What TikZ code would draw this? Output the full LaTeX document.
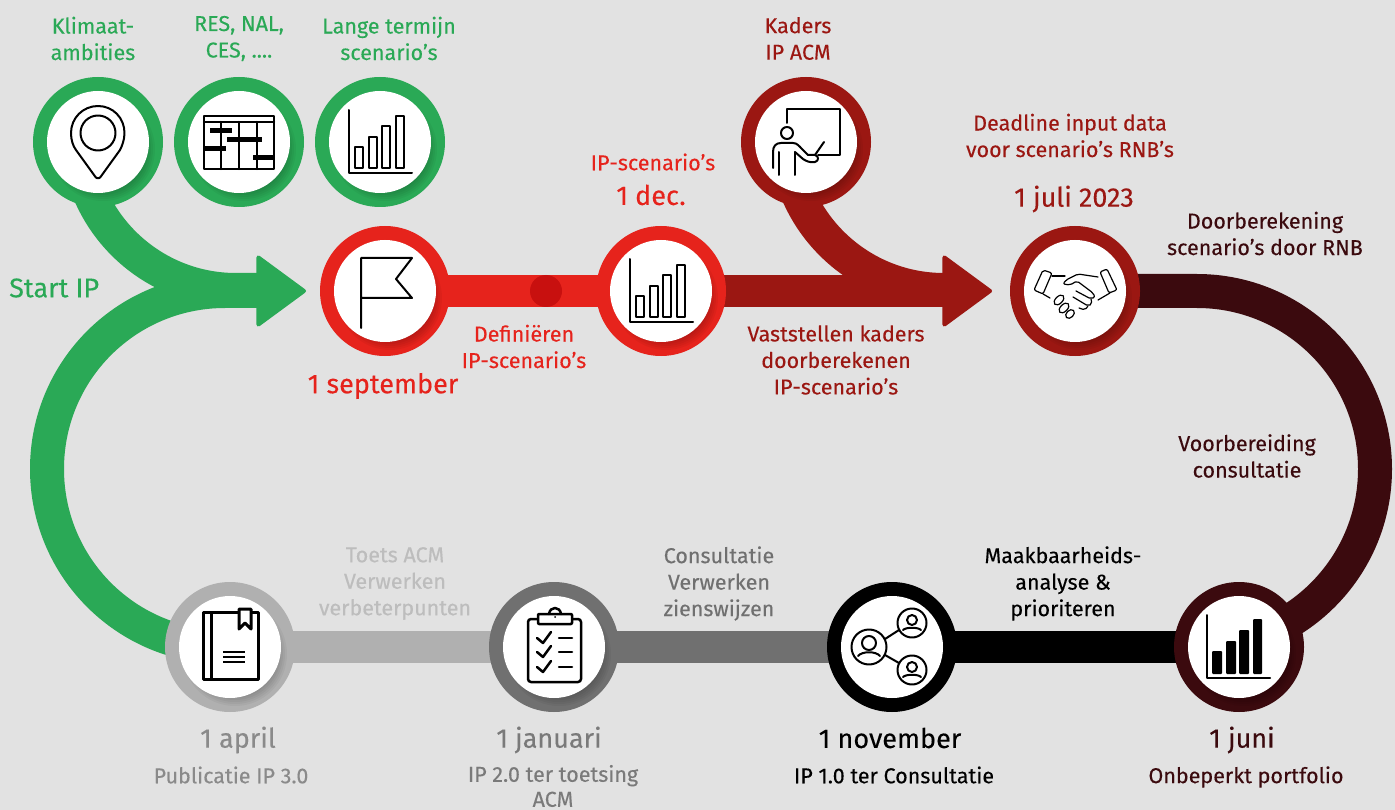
\documentclass[tikz,border=0pt]{standalone}
\usepackage{fontspec}
\setmainfont{Fira Sans}[FakeBold=0.2]
\usetikzlibrary{backgrounds,arrows.meta}
\definecolor{bgc}{HTML}{E2E2E2}
\definecolor{cgreen}{HTML}{2AA956}
\definecolor{cred}{HTML}{E6231C}
\definecolor{cdot}{HTML}{C8100F}
\definecolor{cdark}{HTML}{9B1712}
\definecolor{cmaroon}{HTML}{3B0A0E}
\definecolor{clight}{HTML}{B0B0B0}
\definecolor{cmid}{HTML}{707070}
\definecolor{tlight}{HTML}{BDBDBD}
\definecolor{tmid}{HTML}{8A8A8A}
\definecolor{tdark}{HTML}{7A7A7A}
\tikzset{
 x=1pt,y=-1pt,
 ringnode/.style={circle,minimum size=130pt,inner sep=0pt,path picture={
   \foreach \r in {44,46,...,52}{\fill[black,opacity=.04] ([shift={(5,7)}]path picture bounding box.center) circle[radius=\r pt];}}},
 holenode/.style={circle,minimum size=102pt,inner sep=0pt,fill=white},
 bandline/.style={line width=32pt,line cap=butt,line join=round},
 curveband/.style={line width=34pt,line cap=butt,line join=round},
 headtip/.style={-{Triangle[length=51pt,width=74pt,line width=4pt,round]}},
 icon/.style={draw=black,line width=2pt,line join=round,line cap=round},
 thinicon/.style={draw=black,line width=1.2pt,line join=round,line cap=round},
 label/.style={align=center,inner sep=0pt,font=\fontsize{21.5}{26.5}\selectfont},
 date/.style={align=center,inner sep=0pt,font=\fontsize{27}{32}\selectfont},
}
\newcommand\ringat[4]{\node[ringnode,fill=#4] (#1) at (#2,#3) {};\node[holenode] (#1in) at (#1) {};}
\newcommand\chartout[2]{\begin{scope}[shift={(#1,#2)}]
 \draw[icon] (-31,-32) -- (-31,31) -- (32,31);
 \draw[icon] (-25,26) rectangle (-17,5);
 \draw[icon] (-11,26) rectangle (-3,-5);
 \draw[icon] (2,26) rectangle (10,-16);
 \draw[icon] (16,26) rectangle (24,-26);
\end{scope}}
\begin{document}
\begin{tikzpicture}
\useasboundingbox (0,0) rectangle (1395,810);
\ringat{klim}{98}{142}{cgreen}
\ringat{res}{239}{142}{cgreen}
\ringat{lange}{380}{142}{cgreen}
\ringat{flag}{385}{291}{cred}
\ringat{dec}{661}{291}{cred}
\ringat{kad}{806}{142}{cdark}
\ringat{hand}{1075}{291}{cdark}
\ringat{book}{230}{647}{clight}
\ringat{clip}{554}{647}{cmid}
\ringat{people}{892}{647}{black}
\ringat{chart}{1239}{647}{cmaroon}
\node[circle,fill=cdot,minimum size=32pt,inner sep=0pt] (dot) at (546,291) {};
\coordinate (gtip) at (306,291);
\coordinate (rtip) at (992,291);
\begin{pgfonlayer}{background}
\fill[bgc] (0,0) rectangle (1395,810);
% green
\draw[curveband,cgreen] (klim.center) -- (77,131) .. controls (77,218.8) and (148.2,290) .. (236,290) -- (265,290);
\draw[curveband,cgreen,headtip] (book.center) -- (225,647) .. controls (126.7,647) and (47,567.7) .. (47,469) .. controls (47,370.3) and (126.7,291) .. (225,291) -- (gtip);
% red
\draw[bandline,cred] (flag.center) -- (dec.center);
% dark red
\draw[curveband,cdark] (kad.center) -- (785,131) .. controls (785,218.8) and (856.2,290) .. (944,290) -- (950,290);
\draw[bandline,cdark,headtip] (dec.center) -- (rtip);
% maroon
\draw[curveband,cmaroon] (hand.center) -- (1197,291) .. controls (1295.3,291) and (1375,370.7) .. (1375,469) .. controls (1375,567.3) and (1295.3,647) .. (1197,647) -- (chart.center);
% bottom
\draw[bandline,black] (chart.center) -- (people.center);
\draw[bandline,cmid] (people.center) -- (clip.center);
\draw[bandline,clight] (clip.center) -- (book.center);
\end{pgfonlayer}
% pin
\draw[icon] (98,178) .. controls (97,178.5) and (96.5,178) .. (95.5,177) -- (76,150) .. controls (73,146) and (71,140) .. (71,133) .. controls (71,118) and (83,106) .. (98,106) .. controls (113,106) and (124.5,118) .. (124.5,133) .. controls (124.5,140) and (122,146) .. (120,150) -- (100.5,177) .. controls (99.5,178) and (99,178.5) .. (98,178) -- cycle;
\draw[icon] (98,133) circle[radius=17.5pt];
% gantt
\draw[icon,line width=2.5pt] (204,116) rectangle (274,169);
\draw[icon,line width=2.5pt] (204,122) -- (274,122) (221,122) -- (221,169) (239,122) -- (239,169) (257,122) -- (257,169);
\draw[icon,line width=5pt,line cap=butt] (210,131) -- (232,131) (227,140) -- (262,140) (204,149) -- (226,149) (253,158) -- (274,158);
% charts
\chartout{380}{142}
\chartout{661}{291}
% flag
\draw[icon] (361,328) -- (361,258) -- (412,258) -- (396,279) -- (412,298) -- (361,298);
% presenter
\draw[icon] (787,123) -- (787,109) -- (840,109) -- (840,155) -- (818,155);
\draw[icon] (787,133) circle[radius=6pt];
\draw[icon] (773,168) -- (773,152) .. controls (773,146) and (776,143) .. (781,143) -- (793,143) .. controls (797,143) and (799,146) .. (802,149) -- (808,155) -- (815,155) .. controls (819,156) and (819,161) .. (815,162) .. controls (810,163) and (806,161) .. (803,159) -- (795,152);
\draw[icon] (815,155) -- (824,142);
\draw[icon] (779,152) -- (779,175) (795,152) -- (795,175);
% handshake
\draw[thinicon,rounded corners=2pt] (1043,270) -- (1052,273) -- (1043,294) -- (1034,290) -- cycle;
\draw[thinicon,rounded corners=2pt] (1100,272) -- (1107,269) -- (1117,290) -- (1109,293) -- cycle;
\draw[thinicon] (1052,276) -- (1065,276);
\draw[thinicon,rounded corners=2pt] (1098,277) -- (1078,274) -- (1066,280) -- (1063,284) -- (1070,285) -- (1077,281) -- (1093,293) -- (1095,297) -- (1091,299) -- (1076,291);
\draw[thinicon,rounded corners=2pt] (1091,299) -- (1092,304) -- (1088,306) -- (1073,297);
\draw[thinicon,rounded corners=2pt] (1088,306) -- (1085,310) -- (1079,308);
\draw[thinicon] (1043,294) -- (1050,298);
\draw[thinicon] (1098,300) -- (1110,293);
\draw[thinicon,rotate around={45:(1059,300)}] (1059,300) ellipse[x radius=6pt,y radius=3.5pt];
\draw[thinicon,rotate around={45:(1064,308)}] (1064,308) ellipse[x radius=6pt,y radius=3.5pt];
\draw[thinicon,rotate around={45:(1070,314)}] (1070,314) ellipse[x radius=5pt,y radius=3.5pt];
% book
\draw[icon,line width=3pt,line cap=butt] (203,612) rectangle (258,679);
\draw[icon,line width=3pt,line cap=butt] (211,612) -- (211,679);
\draw[icon,line width=3pt,fill=white] (239,609) -- (251,609) -- (251,629) -- (245,623) -- (239,629) -- cycle;
\draw[icon,line width=2.5pt,line cap=butt] (223,652) -- (245,652) (223,657) -- (245,657) (223,662) -- (245,662);
% clipboard
\draw[icon,line width=2.5pt,rounded corners=3pt] (538,619) -- (528,619) -- (528,682) -- (581,682) -- (581,619) -- (572,619);
\draw[icon,line width=2.5pt,rounded corners=1pt,fill=white] (538,614) rectangle (572,624);
\draw[icon,line width=2.5pt] (549,614) .. controls (550,606) and (560,606) .. (561,614);
\fill (555,617) circle[radius=1pt];
\draw[icon,line width=2.5pt] (537,638) -- (543,643) -- (551,632) (537,652) -- (543,657) -- (551,646) (537,667) -- (543,672) -- (551,661);
\draw[icon,line width=2.5pt] (559,638) -- (572,638) (559,652) -- (572,652) (559,667) -- (572,667);
% people
\draw[icon] (869,647) circle[radius=17.5pt] (912,623) circle[radius=14.5pt] (912,670) circle[radius=14.5pt];
\draw[icon] (885,639) -- (899,630) (885,655) -- (899,663);
\draw[icon] (869,643) circle[radius=7pt] (912,620) circle[radius=5pt] (912,667) circle[radius=5pt];
\draw[icon] (858,656) .. controls (862,651) and (876,651) .. (880,656);
\draw[icon] (903,630) .. controls (906,627) and (918,627) .. (921,630) (903,677) .. controls (906,674) and (918,674) .. (921,677);
% filled chart
\draw[icon] (1207,615) -- (1207,678) -- (1270,678);
\fill[black,rounded corners=1pt] (1212,674) rectangle (1222,651) (1226,674) rectangle (1236,641) (1239,674) rectangle (1249,630) (1253,674) rectangle (1262,619);
% labels
\node[label,text=cgreen] (t1) at (93,38.5) {Klimaat-\\ambities};
\node[label,text=cgreen] (t2) at (239,38.5) {RES, NAL,\\CES, ....};
\node[label,text=cgreen] (t3) at (389,38.5) {Lange termijn\\scenario’s};
\node[date,text=cgreen,anchor=west] (t4) at (9,288) {Start IP};
\node[label,text=cdark] (t5) at (798,38.5) {Kaders\\IP ACM};
\node[label,text=cdark] (t6) at (1070,135.5) {Deadline input data\\voor scenario’s RNB’s};
\node[date,text=cdark] (t7) at (1074,199) {1 juli 2023};
\node[label,text=cred] (t8) at (653,162) {IP-scenario’s};
\node[date,text=cred] (t9) at (651,195) {1 dec.};
\node[label,text=cred] (t10) at (524,346.5) {Definiëren\\IP-scenario’s};
\node[date,text=cred] (t11) at (383,386) {1 september};
\node[label,text=cdark] (t12) at (836,360) {Vaststellen kaders\\doorberekenen\\IP-scenario’s};
\node[label,text=cmaroon] (t13) at (1265,233.5) {Doorberekening\\scenario’s door RNB};
\node[label,text=cmaroon] (t14) at (1247,456) {Voorbereiding\\consultatie};
\node[label,text=black] (t15) at (1063,583.5) {Maakbaarheids-\\analyse \&\\prioriteren};
\node[label,text=cmid] (t16) at (719,583.5) {Consultatie\\Verwerken\\zienswijzen};
\node[label,text=tlight] (t17) at (395,583.5) {Toets ACM\\Verwerken\\verbeterpunten};
\node[date,text=tmid] (t18) at (238,740) {1 april};
\node[label,text=tmid] (t19) at (231,775) {Publicatie IP 3.0};
\node[date,text=tdark] (t20) at (549,740) {1 januari};
\node[label,text=tdark,font=\fontsize{21.5}{25}\selectfont] (t21) at (553,786) {IP 2.0 ter toetsing\\ACM};
\node[date,text=black] (t22) at (890,738) {1 november};
\node[label,text=black] (t23) at (894,775) {IP 1.0 ter Consultatie};
\node[date,text=cmaroon] (t24) at (1242,740) {1 juni};
\node[label,text=cmaroon] (t25) at (1246,777) {Onbeperkt portfolio};
\end{tikzpicture}
\end{document}
